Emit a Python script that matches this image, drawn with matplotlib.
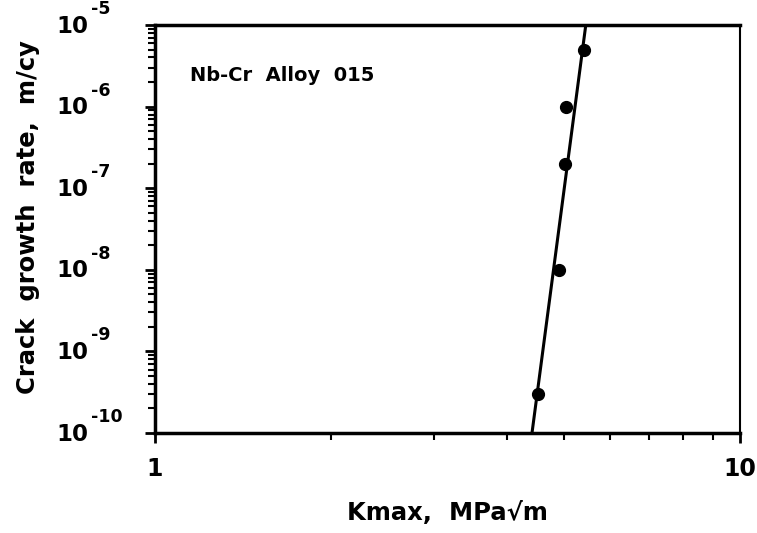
import matplotlib
matplotlib.use('Agg')
import matplotlib.pyplot as plt
from matplotlib.ticker import FixedLocator, LogLocator, NullFormatter
import numpy as np

# Data
kmax = [5.41, 5.04, 5.02, 4.90, 4.52]
rate = [5e-6, 1e-6, 2e-7, 1e-8, 3e-10]

# fitted line (end points in data space)
line_k = [4.41, 5.45]
line_rate = [1e-10, 1e-5]

x_ticks = [1, 10]
x_ticklabels = ['1', '10']
y_exps = [-10, -9, -8, -7, -6, -5]

plt.rcParams['font.family'] = ['DejaVu Sans']
plt.rcParams['font.weight'] = 'bold'

fig = plt.figure(figsize=(7.57, 5.33), dpi=100)
# axes box: left 155px, right 740px, top 25px, bottom 433px
ax = fig.add_axes([155/757, 1-433/533, 585/757, 408/533])

ax.set_xscale('log')
ax.set_yscale('log')
ax.set_xlim(1, 10)
ax.set_ylim(1e-10, 1e-5)

ax.plot(line_k, line_rate, 'k-', linewidth=2.2)
ax.plot(kmax, rate, 'ko', markersize=8.5)

# x ticks
ax.xaxis.set_major_locator(FixedLocator(x_ticks))
ax.set_xticklabels(x_ticklabels)
ax.xaxis.set_minor_locator(LogLocator(base=10, subs=np.arange(2, 10)))
ax.xaxis.set_minor_formatter(NullFormatter())

# y ticks: base "10" and raised exponent drawn as separate texts
ax.yaxis.set_major_locator(FixedLocator([10.0**e for e in y_exps]))
ax.yaxis.set_minor_locator(LogLocator(base=10, subs=np.arange(2, 10)))
ax.yaxis.set_minor_formatter(NullFormatter())
ax.set_yticklabels([])
ytrans = ax.get_yaxis_transform()
for e in y_exps:
    ax.annotate('10', xy=(0, 10.0**e), xycoords=ytrans, xytext=(-99, -1),
                textcoords='offset pixels', ha='left', va='center',
                fontsize=16.5, fontweight='bold', annotation_clip=False)
    ax.annotate('-%d' % -e, xy=(0, 10.0**e), xycoords=ytrans, xytext=(-64, 7),
                textcoords='offset pixels', ha='left', va='bottom',
                fontsize=12.5, fontweight='bold', annotation_clip=False)

ax.tick_params(which='major', direction='out', length=7, width=2,
               labelsize=17, pad=10)
ax.tick_params(which='minor', direction='out', length=5, width=1.5)

for side in ['left', 'bottom', 'top']:
    ax.spines[side].set_linewidth(2.5)
ax.spines['right'].set_linewidth(1.5)

ax.text(0.06, 0.862, 'Nb-Cr  Alloy  015', transform=ax.transAxes,
        fontsize=14, fontweight='bold')

ax.set_xlabel('Kmax,  MPa\u221am', fontsize=17.5, fontweight='bold',
              labelpad=15)
ax.set_ylabel('Crack  growth  rate,  m/cy', fontsize=17.5, fontweight='bold',
              labelpad=66, y=0.53)

fig.savefig('out.png', dpi=100)
